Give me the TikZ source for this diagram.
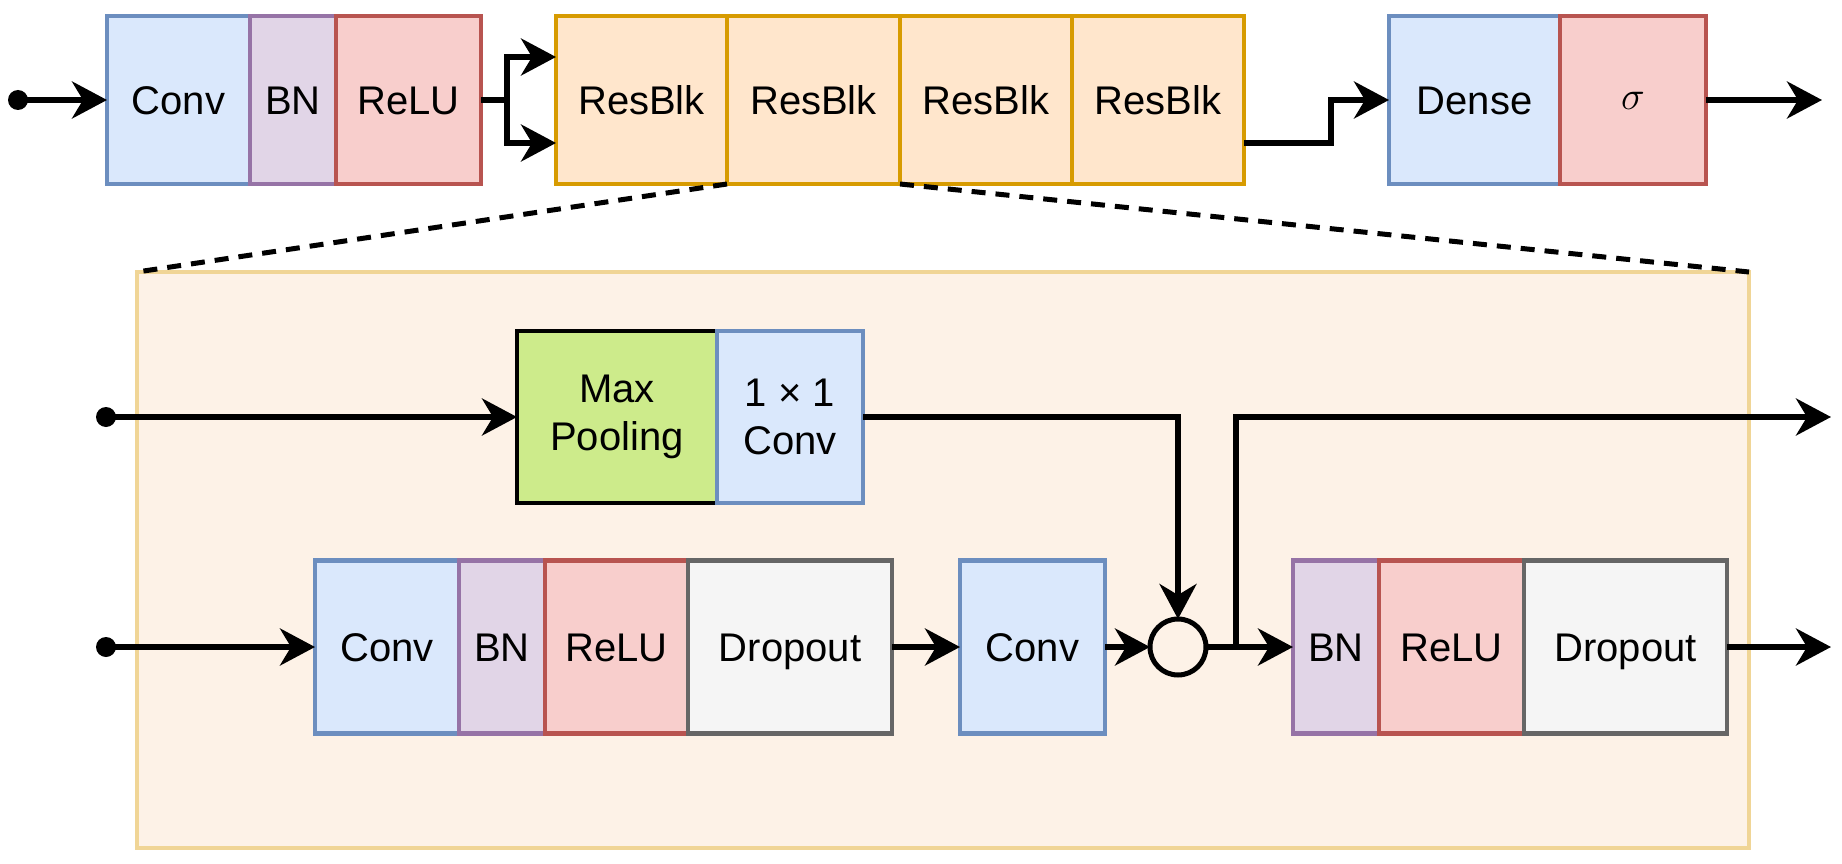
\documentclass[tikz,border=0pt]{standalone}
\usepackage{fix-cm}
\usepackage{fontspec}
\setmainfont{Liberation Sans}
\usetikzlibrary{arrows.meta,calc}
\definecolor{bfill}{HTML}{DAE8FC}\definecolor{bdraw}{HTML}{6C8EBF}
\definecolor{pfill}{HTML}{E1D5E7}\definecolor{pdraw}{HTML}{9673A6}
\definecolor{rfill}{HTML}{F8CECC}\definecolor{rdraw}{HTML}{B85450}
\definecolor{ofill}{HTML}{FFE6CC}\definecolor{odraw}{HTML}{D79B00}
\definecolor{gfill}{HTML}{F5F5F5}\definecolor{gdraw}{HTML}{666666}
\definecolor{lfill}{HTML}{CDEB8B}
\definecolor{cfill}{HTML}{FDF2E7}\definecolor{cdraw}{HTML}{F0D596}
\begin{document}
\begin{tikzpicture}[x=1pt,y=-1pt,
  font=\fontsize{40}{48}\selectfont,
  blk/.style={draw, line width=4.5pt, inner sep=0pt, outer sep=0pt, align=center},
  top/.style={blk, minimum height=168pt, text height=29pt, text depth=0pt},
  low/.style={blk, minimum height=173pt, text height=29pt, text depth=0pt},
  bluebox/.style={fill=bfill, draw=bdraw},
  purplebox/.style={fill=pfill, draw=pdraw},
  redbox/.style={fill=rfill, draw=rdraw},
  orangebox/.style={fill=ofill, draw=odraw},
  graybox/.style={fill=gfill, draw=gdraw},
  greenbox/.style={fill=lfill, draw=black},
  wire/.style={draw=black, line width=5.5pt},
  arr/.style={wire, -{Stealth[length=35pt, width=37pt, inset=11pt]}},
  dashline/.style={draw=black, line width=5pt, dash pattern=on 14pt off 10pt}
]
\useasboundingbox (0,0) rectangle (1842,864);

% container
\node[draw=cdraw, fill=cfill, line width=4.5pt, minimum width=1612pt, minimum height=576pt, inner sep=0pt, outer sep=0pt] (cont) at (943,560) {};

% top row
\node[top, bluebox, minimum width=143pt] (conv0) at (178.5,100) {Conv};
\node[top, purplebox, minimum width=86pt] (bn0) at (293,100) {BN};
\node[top, redbox, minimum width=145pt] (relu0) at (408.5,100) {ReLU};
\node[top, orangebox, minimum width=171pt] (rb1) at (641.5,100) {ResBlk};
\node[top, orangebox, minimum width=173pt] (rb2) at (813.5,100) {ResBlk};
\node[top, orangebox, minimum width=172pt] (rb3) at (986,100) {ResBlk};
\node[top, orangebox, minimum width=172pt] (rb4) at (1158,100) {ResBlk};
\node[top, bluebox, minimum width=171pt] (dense) at (1474.5,100) {Dense};
\node[top, redbox, minimum width=146pt, text height=20pt] (sig) at (1633,100) {$\sigma$};

% dashed zoom lines
\draw[dashline] (rb1.south east) -- (cont.north west);
\draw[dashline] (rb2.south east) -- (cont.north east);

% upper branch of block
\node[blk, greenbox, minimum width=200pt, minimum height=172pt] (mp) at (617,417) {Max\\Pooling};
\node[blk, bluebox, minimum width=146pt, minimum height=172pt] (c11) at (790,417) {1 × 1\\Conv};

% lower row of block
\node[low, bluebox, minimum width=144pt] (conv1) at (387,647) {Conv};
\node[low, purplebox, minimum width=86pt] (bn1) at (502,647) {BN};
\node[low, redbox, minimum width=143pt] (relu1) at (616.5,647) {ReLU};
\node[low, graybox, minimum width=204pt] (drop1) at (790,647) {Dropout};
\node[low, bluebox, minimum width=145pt] (conv2) at (1032.5,647) {Conv};
\node[draw=black, line width=5pt, circle, minimum size=56pt, inner sep=0pt, outer sep=0pt] (sum) at (1178,647) {};
\node[low, purplebox, minimum width=86pt] (bn2) at (1336,647) {BN};
\node[low, redbox, minimum width=145pt] (relu2) at (1451.5,647) {ReLU};
\node[low, graybox, minimum width=203pt] (drop2) at (1625.5,647) {Dropout};

% top-row connectors
\coordinate (in0) at (18,100);
\fill (in0) circle (10pt);
\draw[arr] (in0) -- (conv0.west);
\coordinate (br) at (507,100);
\draw[wire] (relu0.east) -- (br);
\draw[arr] (br) |- ($(rb1.west)+(0,-43)$);
\draw[arr] (br) |- ($(rb1.west)+(0,43)$);
\draw[arr] ($(rb4.east)+(0,43)$) -- ++(87,0) |- (dense.west);
\coordinate (out0) at (1822,100);
\draw[arr] (sig.east) -- (out0);

% block connectors
\coordinate (in1) at (106,417);
\fill (in1) circle (10pt);
\draw[arr] (in1) -- (mp.west);
\draw[arr] (c11.east) -| (sum.north);
\coordinate (in2) at (106,647);
\fill (in2) circle (10pt);
\draw[arr] (in2) -- (conv1.west);
\draw[arr] (drop1.east) -- (conv2.west);
\draw[arr] (conv2.east) -- (sum.west);
\draw[arr] (sum.east) -- (bn2.west);
\coordinate (sp) at (1236,647);
\coordinate (out1) at (1831,417);
\draw[arr] (sp) |- (out1);
\coordinate (out2) at (1831,647);
\draw[arr] (drop2.east) -- (out2);
\end{tikzpicture}
\end{document}
